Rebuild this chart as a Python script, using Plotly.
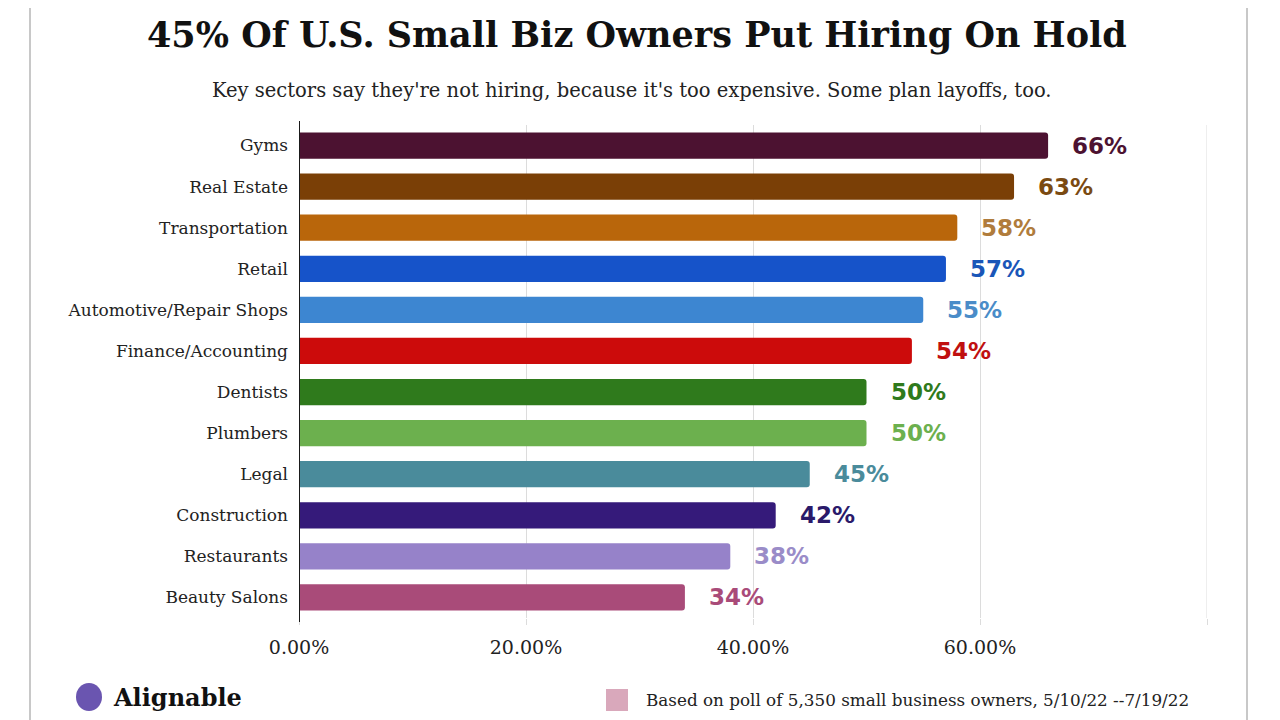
import plotly.graph_objects as go

categories = ["Gyms", "Real Estate", "Transportation", "Retail", "Automotive/Repair Shops",
              "Finance/Accounting", "Dentists", "Plumbers", "Legal", "Construction",
              "Restaurants", "Beauty Salons"]
values = [0.66, 0.63, 0.58, 0.57, 0.55, 0.54, 0.50, 0.50, 0.45, 0.42, 0.38, 0.34]
value_labels = ["66%", "63%", "58%", "57%", "55%", "54%", "50%", "50%", "45%", "42%", "38%", "34%"]
bar_colors = ["#4c1231", "#7a3f06", "#b9660b", "#1653c9", "#3d86d1", "#cc0b0b",
              "#2f7a1c", "#6cb04e", "#4a8b9b", "#351a7a", "#9682c9", "#a94b79"]
label_colors = ["#4c1231", "#7a4a12", "#b07c3c", "#1a56b8", "#4a8cc8", "#c01010",
                "#2f7a1c", "#6cb04e", "#4a8b9b", "#2a1a6a", "#9a8cc8", "#a94b79"]
tick_vals = [0, 0.2, 0.4, 0.6, 0.8]
tick_text = ["0.00%", "20.00%", "40.00%", "60.00%", ""]

title_text = "45% Of U.S. Small Biz Owners Put Hiring On Hold"
subtitle_text = "Key sectors say they're not hiring, because it's too expensive. Some plan layoffs, too."
note_text = "Based on poll of 5,350 small business owners, 5/10/22 --7/19/22"

# page offset of the browser (body margin)
OX, OY = 8, 8
L, T, R, B = 299 - OX, 125 - OY, 1207 - OX, 618 - OY
PW, PH = R - L, B - T


def px_x(px):
    return (px - OX - L) / PW


def px_y(py):
    return (B - (py - OY)) / PH


fig = go.Figure()
fig.add_trace(go.Bar(
    x=values, y=categories, orientation="h",
    marker=dict(color=bar_colors, line=dict(width=0), cornerradius=3),
    showlegend=False, hoverinfo="skip",
))

for cat, v, lab, col in zip(categories, values, value_labels, label_colors):
    fig.add_annotation(x=v, y=cat, text=lab, showarrow=False, xanchor="left",
                       xshift=22, font=dict(family="DejaVu Sans", size=23, color=col, weight="bold"))

fig.update_layout(
    width=1280, height=720,
    paper_bgcolor="white", plot_bgcolor="white",
    margin=dict(l=L, r=1280 - R, t=T, b=720 - B),
    bargap=0.36,
    xaxis=dict(range=[0, 0.8], tickvals=tick_vals, ticktext=tick_text,
               showgrid=True, gridcolor="#dcdcdc", gridwidth=1, zeroline=False,
               ticks="outside", ticklen=6, tickcolor="#dcdcdc",
               tickfont=dict(family="DejaVu Serif", size=19, color="#222"),
               ticklabelstandoff=6, fixedrange=True),
    yaxis=dict(categoryorder="array", categoryarray=categories[::-1],
               tickfont=dict(family="DejaVu Serif", size=17, color="#222"),
               showline=False, ticks="", ticklabelstandoff=10,
               fixedrange=True),
)

# 80% gridline at plot edge
fig.add_shape(type="line", xref="x", yref="paper", x0=0.8, x1=0.8, y0=0, y1=1,
              line=dict(color="#dcdcdc", width=1))
# zero axis line (slightly taller than plot area)
fig.add_shape(type="line", xref="x", yref="paper", x0=0, x1=0, y0=px_y(622), y1=px_y(121),
              line=dict(color="#1a1a1a", width=2), layer="above")

fig.add_annotation(xref="paper", yref="paper", x=px_x(637), y=px_y(35),
                   text="<b>" + title_text + "</b>", showarrow=False, xanchor="center", yanchor="middle",
                   font=dict(family="DejaVu Serif", size=35, color="#111"))
fig.add_annotation(xref="paper", yref="paper", x=px_x(632), y=px_y(90),
                   text=subtitle_text, showarrow=False, xanchor="center", yanchor="middle",
                   font=dict(family="DejaVu Serif", size=19.5, color="#222"))

# note/legend
fig.add_shape(type="rect", xref="paper", yref="paper",
              x0=px_x(606), x1=px_x(628), y0=px_y(711), y1=px_y(689),
              fillcolor="#d9a8bb", line=dict(width=0))
fig.add_annotation(xref="paper", yref="paper", x=px_x(644), y=px_y(700),
                   text=note_text, showarrow=False, xanchor="left", yanchor="middle",
                   font=dict(family="DejaVu Serif", size=16.8, color="#222"))

# logo
fig.add_shape(type="circle", xref="paper", yref="paper",
              x0=px_x(76), x1=px_x(102), y0=px_y(711), y1=px_y(683),
              fillcolor="#6a55b0", line=dict(width=0))
fig.add_annotation(xref="paper", yref="paper", x=px_x(111), y=px_y(697),
                   text="<b>Alignable</b>", showarrow=False, xanchor="left", yanchor="middle",
                   font=dict(family="DejaVu Serif", size=24, color="#111"))

# frame lines
for px in (30, 1247):
    fig.add_shape(type="line", xref="paper", yref="paper",
                  x0=px_x(px), x1=px_x(px), y0=px_y(730), y1=px_y(-10),
                  line=dict(color="#c8c8c8", width=2))

fig.write_html("out.html")
